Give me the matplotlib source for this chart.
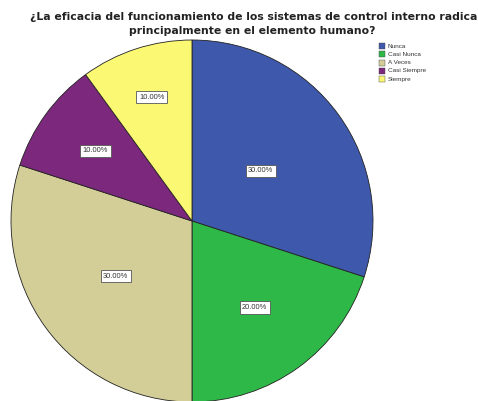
import numpy as np
import matplotlib
matplotlib.use("Agg")
import matplotlib.pyplot as plt
from matplotlib.patches import Rectangle

title_lines = ["¿La eficacia del funcionamiento de los sistemas de control interno radica",
               "principalmente en el elemento humano?"]
categories = ["Nunca", "Casi Nunca", "A Veces", "Casi Siempre", "Siempre"]
values = [30.0, 20.0, 30.0, 10.0, 10.0]
colors = ["#3E58AC", "#2EB848", "#D3CE97", "#7C287D", "#FBF873"]
label_radius = [0.47, 0.59, 0.52, 0.66, 0.72]

plt.rcParams["font.family"] = ["Liberation Sans", "DejaVu Sans"]

W, H = 478, 401
fig = plt.figure(figsize=(W / 100, H / 100), dpi=100)

cx, cy, r = 192, 221, 181
ax = fig.add_axes([(cx - r) / W, (H - cy - r) / H, 2 * r / W, 2 * r / H])
wedges, _ = ax.pie(values, colors=colors, startangle=90, counterclock=False,
                   radius=1.0, wedgeprops=dict(edgecolor="#222222", linewidth=0.6))
ax.set_xlim(-1, 1)
ax.set_ylim(-1, 1)
ax.set_aspect("equal")
ax.axis("off")

for w, v, d in zip(wedges, values, label_radius):
    ang = np.deg2rad((w.theta1 + w.theta2) / 2)
    ax.text(d * np.cos(ang), d * np.sin(ang), f"{v:.2f}%", ha="center", va="center",
            fontsize=5.4, color="#333333",
            bbox=dict(boxstyle="square,pad=0.35", facecolor="white",
                      edgecolor="#555555", linewidth=0.6))

# two-line title, first line fitted to span the figure width
renderer = fig.canvas.get_renderer()
t1 = fig.text(254 / W, 1 - 17 / H, title_lines[0], ha="center", va="center",
              fontsize=8, fontweight="bold", family="DejaVu Sans", color="#222222")
w1 = t1.get_window_extent(renderer).width
fs = 8 * 446 / w1
t1.set_fontsize(fs)
fig.text(252 / W, 1 - 30.5 / H, title_lines[1], ha="center", va="center",
         fontsize=fs, fontweight="bold", family="DejaVu Sans", color="#222222")

# legend
lx, ly0, dy, s = 379, 46, 8.3, 6
for i, (c, name) in enumerate(zip(colors, categories)):
    y = ly0 + i * dy
    fig.patches.append(Rectangle(((lx) / W, 1 - (y + s / 2) / H), s / W, s / H,
                                 transform=fig.transFigure, facecolor=c,
                                 edgecolor="#444444", linewidth=0.3))
    fig.text((lx + s + 3) / W, 1 - y / H, name, ha="left", va="center",
             fontsize=4.6, color="#333333")

fig.savefig("out.png", dpi=100)
